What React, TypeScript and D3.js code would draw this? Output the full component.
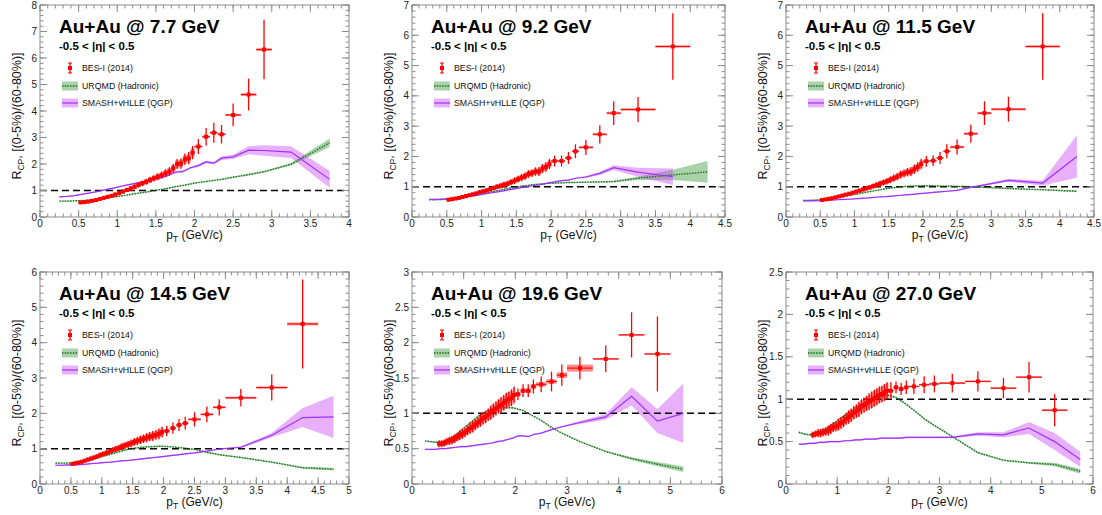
import React from 'react';
import * as d3 from 'd3';

const W = 1102;
const H = 515;

const energies = ['7.7', '9.2', '11.5', '14.5', '19.6', '27.0'];
const legendLabels = ['BES-I (2014)', 'URQMD (Hadronic)', 'SMASH+vHLLE (QGP)'];

// pT bins of the BES-I points (GeV/c) and their half widths
const dataX = [
  0.525, 0.575, 0.625, 0.675, 0.725, 0.775, 0.825, 0.875, 0.925, 0.975,
  1.025, 1.075, 1.125, 1.175, 1.225, 1.275, 1.325, 1.375, 1.425, 1.475,
  1.525, 1.575, 1.625, 1.675, 1.725, 1.775, 1.825, 1.875, 1.925, 1.975,
  2.05, 2.15, 2.25, 2.35, 2.5, 2.7, 2.9, 3.25, 3.75, 4.25, 4.75, 5.25,
];
const dataXErr = [
  0.025, 0.025, 0.025, 0.025, 0.025, 0.025, 0.025, 0.025, 0.025, 0.025,
  0.025, 0.025, 0.025, 0.025, 0.025, 0.025, 0.025, 0.025, 0.025, 0.025,
  0.025, 0.025, 0.025, 0.025, 0.025, 0.025, 0.025, 0.025, 0.025, 0.025,
  0.05, 0.05, 0.05, 0.05, 0.1, 0.1, 0.1, 0.25, 0.25, 0.25, 0.25, 0.25,
];

// model pT grid
const modelX = [
  0.25, 0.35, 0.45, 0.55, 0.65, 0.75, 0.85, 0.95, 1.05, 1.15, 1.25, 1.35, 1.45, 1.55, 1.65,
  1.75, 1.85, 1.95, 2.05, 2.15, 2.25, 2.35, 2.5, 2.7, 2.9, 3.25, 3.75, 4.25, 4.75, 5.25, 5.75,
];

// ---- 7.7 GeV
const rcp77 = [0.55, 0.56, 0.58, 0.61, 0.64, 0.68, 0.72, 0.76, 0.80, 0.85, 0.90, 0.96, 1.02, 1.08, 1.14, 1.21, 1.27, 1.33, 1.40, 1.46, 1.52, 1.58, 1.65, 1.72, 1.84, 2.00, 2.02, 2.18, 2.22, 2.43, 2.66, 3.03, 3.18, 3.12, 3.85, 4.62, 6.32];
const stat77 = [0.04, 0.04, 0.04, 0.04, 0.05, 0.05, 0.05, 0.06, 0.06, 0.07, 0.07, 0.08, 0.08, 0.09, 0.09, 0.10, 0.10, 0.11, 0.12, 0.12, 0.13, 0.14, 0.15, 0.16, 0.17, 0.19, 0.20, 0.22, 0.23, 0.25, 0.28, 0.33, 0.38, 0.35, 0.43, 0.60, 1.12];
const sys77 = [0.03, 0.03, 0.03, 0.04, 0.04, 0.04, 0.05, 0.05, 0.05, 0.06, 0.06, 0.06, 0.07, 0.07, 0.08, 0.08, 0.09, 0.09, 0.10, 0.10, 0.11, 0.11, 0.12, 0.12, 0.13, 0.14, 0.14, 0.15, 0.16, 0.17, 0.04, 0.04, 0.04, 0.04, 0.04, 0.05, 0.05];
const urqmd77 = [0.60, 0.60, 0.61, 0.62, 0.64, 0.67, 0.71, 0.75, 0.79, 0.84, 0.89, 0.93, 0.98, 1.03, 1.08, 1.14, 1.19, 1.25, 1.30, 1.34, 1.38, 1.42, 1.50, 1.60, 1.71, 1.99, 2.80];
const urqmdErr77 = [0.02, 0.02, 0.02, 0.02, 0.02, 0.02, 0.02, 0.02, 0.02, 0.02, 0.02, 0.02, 0.02, 0.02, 0.02, 0.02, 0.02, 0.02, 0.02, 0.02, 0.02, 0.02, 0.03, 0.03, 0.03, 0.05, 0.16];
const smash77 = [0.76, 0.78, 0.81, 0.86, 0.91, 0.97, 1.03, 1.09, 1.16, 1.22, 1.28, 1.34, 1.40, 1.47, 1.56, 1.69, 1.72, 1.86, 1.94, 2.08, 2.03, 2.22, 2.27, 2.52, 2.51, 2.45, 1.42];
const smashErr77 = [0.02, 0.02, 0.02, 0.02, 0.02, 0.02, 0.03, 0.03, 0.03, 0.03, 0.03, 0.03, 0.03, 0.03, 0.03, 0.04, 0.04, 0.04, 0.05, 0.05, 0.05, 0.07, 0.08, 0.15, 0.20, 0.22, 0.32];

// ---- 9.2 GeV
const rcp92 = [0.57, 0.59, 0.61, 0.63, 0.66, 0.69, 0.72, 0.75, 0.78, 0.82, 0.85, 0.88, 0.92, 0.96, 1.00, 1.03, 1.07, 1.10, 1.15, 1.20, 1.25, 1.30, 1.35, 1.42, 1.45, 1.50, 1.50, 1.60, 1.65, 1.75, 1.85, 1.85, 1.95, 2.17, 2.30, 2.73, 3.43, 3.55, 5.63];
const stat92 = [0.03, 0.03, 0.03, 0.04, 0.04, 0.04, 0.05, 0.05, 0.05, 0.06, 0.06, 0.07, 0.07, 0.08, 0.08, 0.09, 0.09, 0.10, 0.10, 0.11, 0.11, 0.12, 0.12, 0.13, 0.13, 0.14, 0.15, 0.15, 0.16, 0.17, 0.18, 0.18, 0.20, 0.23, 0.25, 0.30, 0.39, 0.41, 1.10];
const sys92 = [0.03, 0.03, 0.03, 0.03, 0.04, 0.04, 0.04, 0.04, 0.05, 0.05, 0.05, 0.06, 0.06, 0.06, 0.07, 0.07, 0.07, 0.08, 0.08, 0.08, 0.09, 0.09, 0.10, 0.10, 0.10, 0.11, 0.11, 0.12, 0.12, 0.13, 0.03, 0.03, 0.03, 0.03, 0.04, 0.04, 0.04, 0.04, 0.04];
const urqmd92 = [0.57, 0.57, 0.58, 0.60, 0.63, 0.66, 0.70, 0.75, 0.79, 0.84, 0.88, 0.93, 0.97, 1.01, 1.04, 1.07, 1.09, 1.11, 1.12, 1.13, 1.14, 1.14, 1.15, 1.16, 1.17, 1.28, 1.39, 1.49];
const urqmdErr92 = [0.02, 0.02, 0.02, 0.02, 0.02, 0.02, 0.02, 0.02, 0.02, 0.02, 0.02, 0.02, 0.02, 0.02, 0.02, 0.02, 0.02, 0.02, 0.02, 0.02, 0.02, 0.02, 0.02, 0.02, 0.03, 0.06, 0.17, 0.36];
const smash92 = [0.58, 0.58, 0.59, 0.60, 0.63, 0.66, 0.69, 0.72, 0.76, 0.80, 0.84, 0.88, 0.92, 0.96, 1.00, 1.04, 1.07, 1.12, 1.16, 1.20, 1.22, 1.28, 1.32, 1.44, 1.63, 1.48, 1.33];
const smashErr92 = [0.02, 0.02, 0.02, 0.02, 0.02, 0.02, 0.02, 0.02, 0.02, 0.02, 0.02, 0.02, 0.02, 0.02, 0.02, 0.02, 0.02, 0.02, 0.02, 0.02, 0.02, 0.02, 0.03, 0.05, 0.08, 0.15, 0.27];

// ---- 11.5 GeV
const rcp115 = [0.56, 0.58, 0.60, 0.62, 0.65, 0.68, 0.71, 0.74, 0.77, 0.80, 0.84, 0.87, 0.91, 0.95, 0.98, 1.02, 1.06, 1.10, 1.14, 1.18, 1.23, 1.28, 1.33, 1.40, 1.44, 1.48, 1.50, 1.58, 1.65, 1.75, 1.84, 1.86, 1.95, 2.17, 2.31, 2.75, 3.43, 3.56, 5.63];
const stat115 = [0.03, 0.03, 0.03, 0.04, 0.04, 0.04, 0.05, 0.05, 0.05, 0.06, 0.06, 0.07, 0.07, 0.08, 0.08, 0.09, 0.09, 0.10, 0.10, 0.11, 0.11, 0.12, 0.12, 0.13, 0.13, 0.14, 0.15, 0.15, 0.16, 0.17, 0.18, 0.18, 0.20, 0.23, 0.25, 0.30, 0.39, 0.41, 1.10];
const sys115 = [0.03, 0.03, 0.03, 0.03, 0.04, 0.04, 0.04, 0.04, 0.05, 0.05, 0.05, 0.06, 0.06, 0.06, 0.07, 0.07, 0.07, 0.08, 0.08, 0.08, 0.09, 0.09, 0.10, 0.10, 0.10, 0.11, 0.11, 0.12, 0.12, 0.13, 0.03, 0.03, 0.03, 0.03, 0.04, 0.04, 0.04, 0.04, 0.04];
const urqmd115 = [0.55, 0.55, 0.56, 0.58, 0.61, 0.64, 0.68, 0.72, 0.76, 0.81, 0.85, 0.89, 0.93, 0.96, 0.99, 1.01, 1.02, 1.03, 1.03, 1.03, 1.02, 1.02, 1.01, 1.00, 0.98, 0.94, 0.90, 0.85];
const urqmdErr115 = [0.02, 0.02, 0.02, 0.02, 0.02, 0.02, 0.02, 0.02, 0.02, 0.02, 0.02, 0.02, 0.02, 0.02, 0.02, 0.02, 0.02, 0.02, 0.02, 0.02, 0.02, 0.02, 0.02, 0.02, 0.02, 0.02, 0.02, 0.03];
const smash115 = [0.53, 0.53, 0.54, 0.55, 0.56, 0.57, 0.58, 0.59, 0.61, 0.62, 0.64, 0.66, 0.67, 0.69, 0.71, 0.73, 0.75, 0.77, 0.79, 0.81, 0.83, 0.85, 0.88, 0.98, 1.06, 1.21, 1.12, 2.00];
const smashErr115 = [0.02, 0.02, 0.02, 0.02, 0.02, 0.02, 0.02, 0.02, 0.02, 0.02, 0.02, 0.02, 0.02, 0.02, 0.02, 0.02, 0.02, 0.02, 0.02, 0.02, 0.02, 0.02, 0.02, 0.02, 0.03, 0.05, 0.08, 0.70];

// ---- 14.5 GeV
const rcp145 = [0.57, 0.59, 0.61, 0.63, 0.66, 0.69, 0.72, 0.75, 0.78, 0.82, 0.85, 0.88, 0.92, 0.96, 0.99, 1.02, 1.06, 1.09, 1.12, 1.15, 1.19, 1.22, 1.25, 1.28, 1.31, 1.34, 1.36, 1.39, 1.42, 1.47, 1.50, 1.58, 1.67, 1.72, 1.83, 1.97, 2.17, 2.44, 2.73, 4.53];
const stat145 = [0.04, 0.04, 0.04, 0.05, 0.05, 0.05, 0.06, 0.06, 0.06, 0.07, 0.07, 0.08, 0.08, 0.08, 0.09, 0.09, 0.10, 0.10, 0.10, 0.11, 0.11, 0.12, 0.12, 0.12, 0.13, 0.13, 0.14, 0.14, 0.15, 0.15, 0.15, 0.16, 0.17, 0.18, 0.20, 0.22, 0.23, 0.25, 0.37, 1.26];
const sys145 = [0.03, 0.03, 0.03, 0.04, 0.04, 0.04, 0.04, 0.05, 0.05, 0.05, 0.06, 0.06, 0.06, 0.07, 0.07, 0.07, 0.08, 0.08, 0.08, 0.09, 0.09, 0.09, 0.10, 0.10, 0.10, 0.11, 0.11, 0.11, 0.12, 0.12, 0.03, 0.03, 0.03, 0.03, 0.03, 0.03, 0.03, 0.03, 0.03, 0.04];
const urqmd145 = [0.59, 0.59, 0.59, 0.60, 0.63, 0.66, 0.70, 0.75, 0.80, 0.85, 0.90, 0.95, 0.99, 1.02, 1.04, 1.05, 1.06, 1.07, 1.06, 1.05, 1.03, 1.01, 0.98, 0.90, 0.83, 0.75, 0.62, 0.46, 0.42];
const urqmdErr145 = [0.02, 0.02, 0.02, 0.02, 0.02, 0.02, 0.02, 0.02, 0.02, 0.02, 0.02, 0.02, 0.02, 0.02, 0.02, 0.02, 0.02, 0.02, 0.02, 0.02, 0.02, 0.02, 0.02, 0.02, 0.02, 0.02, 0.02, 0.03, 0.04];
const smash145 = [0.53, 0.53, 0.54, 0.54, 0.55, 0.56, 0.58, 0.59, 0.61, 0.62, 0.64, 0.66, 0.67, 0.69, 0.71, 0.73, 0.75, 0.77, 0.79, 0.81, 0.83, 0.85, 0.88, 0.93, 0.99, 1.04, 1.38, 1.88, 1.90];
const smashErr145 = [0.02, 0.02, 0.02, 0.02, 0.02, 0.02, 0.02, 0.02, 0.02, 0.02, 0.02, 0.02, 0.02, 0.02, 0.02, 0.02, 0.02, 0.02, 0.02, 0.02, 0.02, 0.02, 0.02, 0.02, 0.02, 0.03, 0.06, 0.27, 0.60];

// ---- 19.6 GeV
const rcp196 = [0.57, 0.57, 0.58, 0.60, 0.61, 0.62, 0.64, 0.66, 0.69, 0.71, 0.73, 0.76, 0.79, 0.81, 0.84, 0.87, 0.90, 0.93, 0.95, 0.98, 1.01, 1.04, 1.07, 1.10, 1.12, 1.15, 1.18, 1.20, 1.22, 1.26, 1.27, 1.32, 1.32, 1.38, 1.41, 1.45, 1.54, 1.64, 1.77, 2.11, 1.84];
const stat196 = [0.05, 0.05, 0.05, 0.05, 0.06, 0.06, 0.06, 0.06, 0.07, 0.07, 0.07, 0.07, 0.08, 0.08, 0.08, 0.08, 0.09, 0.09, 0.09, 0.09, 0.10, 0.10, 0.10, 0.10, 0.11, 0.11, 0.11, 0.11, 0.12, 0.12, 0.08, 0.09, 0.09, 0.10, 0.11, 0.14, 0.15, 0.16, 0.19, 0.32, 0.53];
const sys196 = [0.04, 0.04, 0.04, 0.04, 0.05, 0.05, 0.05, 0.05, 0.06, 0.06, 0.06, 0.06, 0.07, 0.07, 0.07, 0.07, 0.08, 0.08, 0.08, 0.08, 0.09, 0.09, 0.09, 0.09, 0.10, 0.10, 0.10, 0.10, 0.10, 0.10, 0.03, 0.03, 0.03, 0.03, 0.03, 0.03, 0.04, 0.05, 0.01, 0.01, 0.01];
const urqmd196 = [0.61, 0.60, 0.59, 0.59, 0.61, 0.65, 0.70, 0.76, 0.82, 0.88, 0.94, 0.99, 1.03, 1.06, 1.07, 1.08, 1.08, 1.08, 1.06, 1.04, 1.00, 0.96, 0.90, 0.80, 0.72, 0.60, 0.46, 0.36, 0.28, 0.21];
const urqmdErr196 = [0.01, 0.01, 0.01, 0.01, 0.01, 0.01, 0.01, 0.01, 0.01, 0.01, 0.01, 0.01, 0.01, 0.01, 0.01, 0.01, 0.01, 0.01, 0.01, 0.01, 0.01, 0.01, 0.01, 0.01, 0.01, 0.01, 0.01, 0.02, 0.03, 0.04];
const smash196 = [0.49, 0.49, 0.49, 0.50, 0.50, 0.51, 0.52, 0.53, 0.53, 0.54, 0.55, 0.56, 0.57, 0.58, 0.60, 0.61, 0.63, 0.65, 0.68, 0.68, 0.67, 0.70, 0.72, 0.77, 0.81, 0.87, 0.95, 1.24, 0.89, 1.00];
const smashErr196 = [0.01, 0.01, 0.01, 0.01, 0.01, 0.01, 0.01, 0.01, 0.01, 0.01, 0.01, 0.01, 0.01, 0.01, 0.01, 0.01, 0.01, 0.01, 0.01, 0.01, 0.01, 0.01, 0.01, 0.01, 0.01, 0.02, 0.04, 0.13, 0.17, 0.42];

// ---- 27 GeV
const rcp27 = [0.58, 0.59, 0.60, 0.60, 0.61, 0.62, 0.63, 0.65, 0.67, 0.68, 0.70, 0.72, 0.74, 0.77, 0.79, 0.81, 0.84, 0.86, 0.88, 0.91, 0.93, 0.95, 0.97, 0.99, 1.01, 1.03, 1.05, 1.06, 1.08, 1.10, 1.10, 1.14, 1.12, 1.14, 1.15, 1.17, 1.18, 1.19, 1.21, 1.13, 1.26, 0.87];
const stat27 = [0.04, 0.04, 0.05, 0.05, 0.05, 0.05, 0.06, 0.06, 0.06, 0.06, 0.07, 0.07, 0.07, 0.07, 0.08, 0.08, 0.08, 0.08, 0.09, 0.09, 0.09, 0.09, 0.10, 0.10, 0.10, 0.10, 0.10, 0.10, 0.10, 0.10, 0.10, 0.07, 0.07, 0.08, 0.09, 0.10, 0.10, 0.11, 0.12, 0.12, 0.18, 0.19];
const sys27 = [0.03, 0.03, 0.04, 0.04, 0.04, 0.04, 0.05, 0.05, 0.05, 0.05, 0.06, 0.06, 0.06, 0.06, 0.07, 0.07, 0.07, 0.07, 0.08, 0.08, 0.08, 0.08, 0.08, 0.09, 0.09, 0.09, 0.09, 0.09, 0.09, 0.09, 0.01, 0.01, 0.01, 0.01, 0.01, 0.01, 0.01, 0.01, 0.01, 0.01, 0.01, 0.01];
const urqmd27 = [0.61, 0.59, 0.58, 0.59, 0.61, 0.64, 0.68, 0.72, 0.77, 0.81, 0.85, 0.89, 0.93, 0.96, 0.99, 1.01, 1.03, 1.05, 1.04, 1.02, 0.98, 0.94, 0.87, 0.77, 0.69, 0.56, 0.37, 0.28, 0.25, 0.23, 0.15];
const urqmdErr27 = [0.01, 0.01, 0.01, 0.01, 0.01, 0.01, 0.01, 0.01, 0.01, 0.01, 0.01, 0.01, 0.01, 0.01, 0.01, 0.01, 0.01, 0.01, 0.01, 0.01, 0.01, 0.01, 0.01, 0.01, 0.01, 0.01, 0.01, 0.01, 0.01, 0.02, 0.03];
const smash27 = [0.47, 0.47, 0.48, 0.48, 0.49, 0.49, 0.50, 0.50, 0.50, 0.51, 0.51, 0.52, 0.52, 0.53, 0.53, 0.53, 0.54, 0.54, 0.54, 0.54, 0.54, 0.55, 0.55, 0.55, 0.55, 0.55, 0.59, 0.58, 0.66, 0.50, 0.29];
const smashErr27 = [0.01, 0.01, 0.01, 0.01, 0.01, 0.01, 0.01, 0.01, 0.01, 0.01, 0.01, 0.01, 0.01, 0.01, 0.01, 0.01, 0.01, 0.01, 0.01, 0.01, 0.01, 0.01, 0.01, 0.01, 0.01, 0.01, 0.02, 0.03, 0.07, 0.10, 0.09];

interface PanelCfg {
  energy: string;
  left: number; right: number; top: number; bottom: number;
  xMax: number; yMax: number;
  xMajor: number; xMinor: number; yMajor: number; yMinor: number;
  rcp: number[]; stat: number[]; sys: number[];
  urqmd: number[]; urqmdErr: number[]; smash: number[]; smashErr: number[];
}

const panels: PanelCfg[] = [
  { energy: energies[0], left: 40, right: 349, top: 5, bottom: 217, xMax: 4, yMax: 8, xMajor: 8, xMinor: 40, yMajor: 8, yMinor: 40,
    rcp: rcp77, stat: stat77, sys: sys77, urqmd: urqmd77, urqmdErr: urqmdErr77, smash: smash77, smashErr: smashErr77 },
  { energy: energies[1], left: 412, right: 725, top: 5, bottom: 217, xMax: 4.5, yMax: 7, xMajor: 9, xMinor: 45, yMajor: 7, yMinor: 35,
    rcp: rcp92, stat: stat92, sys: sys92, urqmd: urqmd92, urqmdErr: urqmdErr92, smash: smash92, smashErr: smashErr92 },
  { energy: energies[2], left: 786, right: 1094, top: 5, bottom: 217, xMax: 4.5, yMax: 7, xMajor: 9, xMinor: 45, yMajor: 7, yMinor: 35,
    rcp: rcp115, stat: stat115, sys: sys115, urqmd: urqmd115, urqmdErr: urqmdErr115, smash: smash115, smashErr: smashErr115 },
  { energy: energies[3], left: 40, right: 349, top: 272, bottom: 484, xMax: 5, yMax: 6, xMajor: 10, xMinor: 50, yMajor: 6, yMinor: 30,
    rcp: rcp145, stat: stat145, sys: sys145, urqmd: urqmd145, urqmdErr: urqmdErr145, smash: smash145, smashErr: smashErr145 },
  { energy: energies[4], left: 412, right: 722, top: 272, bottom: 484, xMax: 6, yMax: 3, xMajor: 6, xMinor: 30, yMajor: 6, yMinor: 30,
    rcp: rcp196, stat: stat196, sys: sys196, urqmd: urqmd196, urqmdErr: urqmdErr196, smash: smash196, smashErr: smashErr196 },
  { energy: energies[5], left: 786, right: 1093, top: 272, bottom: 484, xMax: 6, yMax: 2.5, xMajor: 6, xMinor: 25, yMajor: 5, yMinor: 25,
    rcp: rcp27, stat: stat27, sys: sys27, urqmd: urqmd27, urqmdErr: urqmdErr27, smash: smash27, smashErr: smashErr27 },
];

const FONT = '"Liberation Sans", Arial, Helvetica, sans-serif';
const FRAME = '#8c8c8c';
const RED = '#ff0000';
const GREEN_LINE = '#16731a';
const GREEN_BAND = 'rgba(42,142,42,0.4)';
const VIOLET_LINE = '#9933ff';
const VIOLET_BAND = 'rgba(199,66,244,0.42)';

function Panel({ p, idx }: { p: PanelCfg; idx: number }) {
  const x = d3.scaleLinear().domain([0, p.xMax]).range([p.left, p.right]);
  const y = d3.scaleLinear().domain([0, p.yMax]).range([p.bottom, p.top]);
  const fmt = d3.format('~g');

  const xMaj = x.ticks(p.xMajor);
  const xMin = x.ticks(p.xMinor);
  const yMaj = y.ticks(p.yMajor);
  const yMin = y.ticks(p.yMinor);

  const mk = (vals: number[], errs: number[]) =>
    vals.map((v, i) => ({ x: modelX[i], v, e: errs[i] }));
  const urq = mk(p.urqmd, p.urqmdErr);
  const sma = mk(p.smash, p.smashErr);

  type M = { x: number; v: number; e: number };
  const band = d3.area<M>().x(d => x(d.x)).y0(d => y(d.v - d.e)).y1(d => y(d.v + d.e));
  const line = d3.line<M>().x(d => x(d.x)).y(d => y(d.v));

  const pts = p.rcp.map((v, i) => ({ x: dataX[i], xe: dataXErr[i], v, st: p.stat[i], sy: p.sys[i] }));

  const clipId = `clip${idx}`;
  const majLen = 7;
  const minLen = 3.5;
  const cx = (p.left + p.right) / 2;
  const cy = (p.top + p.bottom) / 2;

  const lgX = p.left + 30;
  const lgRows = [p.top + 63, p.top + 81, p.top + 98];

  return (
    <g>
      <defs>
        <clipPath id={clipId}>
          <rect x={p.left} y={p.top} width={p.right - p.left} height={p.bottom - p.top} />
        </clipPath>
      </defs>

      <g clipPath={`url(#${clipId})`}>
        <path d={band(urq) || ''} fill={GREEN_BAND} />
        <path d={band(sma) || ''} fill={VIOLET_BAND} />
        <line x1={p.left} x2={p.right} y1={y(1)} y2={y(1)} stroke="#000" strokeWidth={1.5} strokeDasharray="7,4" />
        <path d={line(urq) || ''} fill="none" stroke={GREEN_LINE} strokeWidth={1.4} strokeDasharray="1.5,1.2" />
        <path d={line(sma) || ''} fill="none" stroke={VIOLET_LINE} strokeWidth={1.2} />

        {pts.map((d, i) => (
          <g key={i}>
            <rect x={x(d.x - d.xe)} y={y(d.v + d.sy)} width={x(d.x + d.xe) - x(d.x - d.xe)}
              height={Math.max(1.5, y(d.v - d.sy) - y(d.v + d.sy))} fill="rgba(255,0,0,0.45)" />
            <line x1={x(d.x)} x2={x(d.x)} y1={y(d.v - d.st)} y2={y(d.v + d.st)} stroke={RED} strokeWidth={1.3} />
            <line x1={x(d.x - d.xe)} x2={x(d.x + d.xe)} y1={y(d.v)} y2={y(d.v)} stroke={RED} strokeWidth={1.1} />
            <rect x={x(d.x) - 2} y={y(d.v) - 2} width={4} height={4} fill={RED} />
          </g>
        ))}
      </g>

      {/* frame */}
      <rect x={p.left} y={p.top} width={p.right - p.left} height={p.bottom - p.top} fill="none" stroke={FRAME} strokeWidth={1} />

      {/* ticks on all four sides */}
      {xMin.map(t => (
        <g key={`xm${t}`} stroke={FRAME} strokeWidth={1}>
          <line x1={x(t)} x2={x(t)} y1={p.bottom} y2={p.bottom - minLen} />
          <line x1={x(t)} x2={x(t)} y1={p.top} y2={p.top + minLen} />
        </g>
      ))}
      {xMaj.map(t => (
        <g key={`xM${t}`} stroke={FRAME} strokeWidth={1}>
          <line x1={x(t)} x2={x(t)} y1={p.bottom} y2={p.bottom - majLen} />
          <line x1={x(t)} x2={x(t)} y1={p.top} y2={p.top + majLen} />
        </g>
      ))}
      {yMin.map(t => (
        <g key={`ym${t}`} stroke={FRAME} strokeWidth={1}>
          <line x1={p.left} x2={p.left + minLen} y1={y(t)} y2={y(t)} />
          <line x1={p.right} x2={p.right - minLen} y1={y(t)} y2={y(t)} />
        </g>
      ))}
      {yMaj.map(t => (
        <g key={`yM${t}`} stroke={FRAME} strokeWidth={1}>
          <line x1={p.left} x2={p.left + majLen} y1={y(t)} y2={y(t)} />
          <line x1={p.right} x2={p.right - majLen} y1={y(t)} y2={y(t)} />
        </g>
      ))}

      {/* tick labels */}
      {xMaj.map(t => (
        <text key={`xl${t}`} x={x(t)} y={p.bottom + 10} fontSize={10} textAnchor="middle" fill="#222" fontFamily={FONT}>{fmt(t)}</text>
      ))}
      {yMaj.map(t => (
        <text key={`yl${t}`} x={p.left - 3} y={y(t) + 3.5} fontSize={10} textAnchor="end" fill="#222" fontFamily={FONT}>{fmt(t)}</text>
      ))}

      {/* axis titles */}
      <text x={cx} y={p.bottom + 22} fontSize={12} textAnchor="middle" fill="#111" fontFamily={FONT}>
        p<tspan fontSize={8.5} dy={3}>T</tspan><tspan dy={-3}> (GeV/c)</tspan>
      </text>
      <text transform={`translate(${p.left - 19},${cy + 5}) rotate(-90)`} fontSize={12.5} textAnchor="middle" fill="#111" fontFamily={FONT}>
        R<tspan fontSize={8.5} dy={3}>CP</tspan><tspan dy={-3}>, [(0-5%)/(60-80%)]</tspan>
      </text>

      {/* labels */}
      <text x={p.left + 19} y={p.top + 28} fontSize={19} fontWeight="bold" fill="#000" fontFamily={FONT}>{`Au+Au @ ${p.energy} GeV`}</text>
      <text x={p.left + 19} y={p.top + 45} fontSize={11.5} fontWeight="bold" fill="#000" fontFamily={FONT}>-0.5 &lt; |η| &lt; 0.5</text>

      {/* legend */}
      <g fontFamily={FONT} fontSize={8.8} fill="#111">
        <line x1={lgX} x2={lgX} y1={lgRows[0] - 5} y2={lgRows[0] + 5} stroke={RED} strokeWidth={1.3} />
        <line x1={lgX - 2} x2={lgX + 2} y1={lgRows[0] - 5} y2={lgRows[0] - 5} stroke={RED} strokeWidth={1} />
        <line x1={lgX - 2} x2={lgX + 2} y1={lgRows[0] + 5} y2={lgRows[0] + 5} stroke={RED} strokeWidth={1} />
        <rect x={lgX - 2} y={lgRows[0] - 2} width={4} height={4} fill={RED} />
        <text x={p.left + 42} y={lgRows[0] + 3}>{legendLabels[0]}</text>

        <rect x={p.left + 22} y={lgRows[1] - 4.5} width={16} height={9} fill={GREEN_BAND} />
        <line x1={p.left + 22} x2={p.left + 38} y1={lgRows[1]} y2={lgRows[1]} stroke={GREEN_LINE} strokeWidth={1.3} strokeDasharray="1.5,1.2" />
        <text x={p.left + 42} y={lgRows[1] + 3}>{legendLabels[1]}</text>

        <rect x={p.left + 22} y={lgRows[2] - 4.5} width={16} height={9} fill={VIOLET_BAND} />
        <line x1={p.left + 22} x2={p.left + 38} y1={lgRows[2]} y2={lgRows[2]} stroke={VIOLET_LINE} strokeWidth={1.2} />
        <text x={p.left + 42} y={lgRows[2] + 3}>{legendLabels[2]}</text>
      </g>
    </g>
  );
}

export default function App() {
  return (
    <svg width={W} height={H} style={{ position: 'absolute', left: 0, top: 0, background: '#fff' }}>
      {panels.map((p, i) => (
        <Panel key={p.energy} p={p} idx={i} />
      ))}
    </svg>
  );
}
